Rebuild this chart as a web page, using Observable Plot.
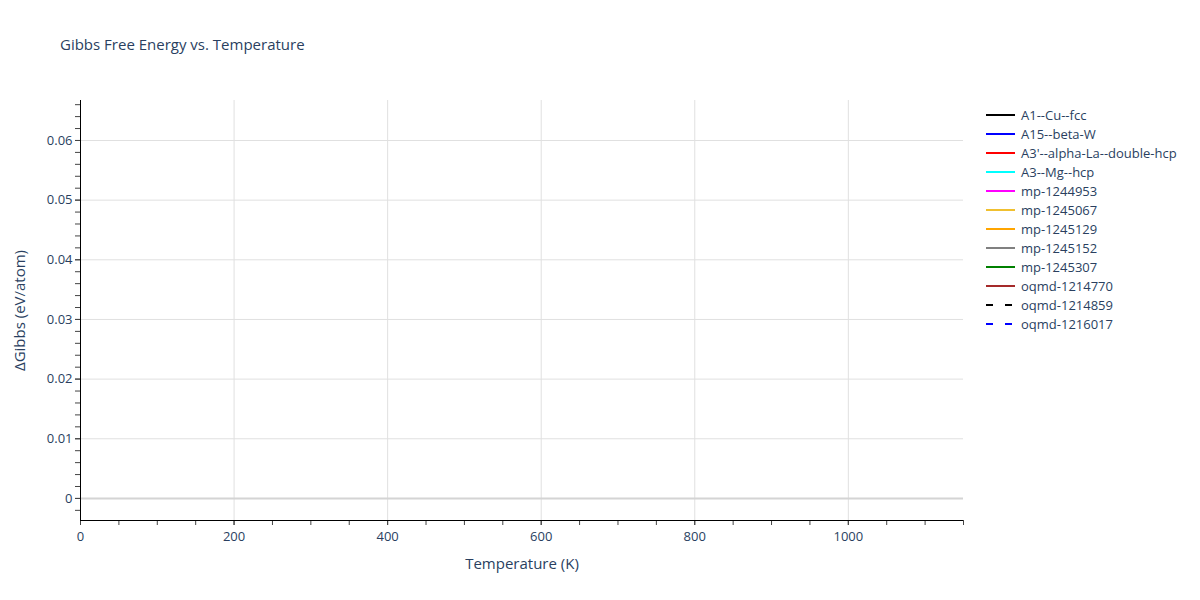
<!DOCTYPE html>
<html>
<head>
<meta charset="utf-8">
<script src="https://cdn.jsdelivr.net/npm/d3@7"></script>
<script src="https://cdn.jsdelivr.net/npm/@observablehq/plot@0.6"></script>
<style>
  body { margin: 0; background: #fff; font-family: "Open Sans", Verdana, Arial, sans-serif; }
  #wrap { position: relative; width: 1200px; height: 600px; }
  #title { position: absolute; left: 60px; top: 34px; font-size: 15px; color: #2a3f5f; }
  #legend { position: absolute; left: 985px; top: 105px; font-size: 13px; color: #2a3f5f; }
  .row { height: 19px; display: flex; align-items: center; }
  .row svg { margin-right: 6px; }
  svg text { font-family: "Open Sans", Verdana, Arial, sans-serif; }
</style>
</head>
<body>
<div id="wrap">
  <div id="chart"></div>
  <div id="title">Gibbs Free Energy vs. Temperature</div>
  <div id="legend"></div>
</div>
<script>
const seriesNames = ["A1--Cu--fcc","A15--beta-W","A3'--alpha-La--double-hcp","A3--Mg--hcp","mp-1244953","mp-1245067","mp-1245129","mp-1245152","mp-1245307","oqmd-1214770","oqmd-1214859","oqmd-1216017"];
const seriesColors = ["black","blue","red","cyan","magenta","#f0c030","orange","gray","green","brown","black","blue"];
const seriesDash = [false,false,false,false,false,false,false,false,false,false,true,true];
// No visible data in the reference: every series is empty.
const seriesValues = seriesNames.map(() => []);
const xDomain = [0, 1150];
const yDomain = [-0.0037, 0.0667];
const xMajorTicks = [0, 200, 400, 600, 800, 1000];
const xMinorTicks = d3.range(0, 1151, 50);
const yMajorTicks = [0, 0.01, 0.02, 0.03, 0.04, 0.05, 0.06];
const yMinorTicks = d3.range(-0.002, 0.0667, 0.002);

const lineData = seriesNames.flatMap((name, i) => seriesValues[i].map(([t, g]) => ({name, t, g})));

const textColor = "#2a3f5f";
const chart = Plot.plot({
  width: 1200, height: 600,
  marginLeft: 80, marginRight: 237, marginTop: 100, marginBottom: 80,
  style: {fontSize: "13px", color: textColor, fontFamily: "Open Sans, Verdana, Arial, sans-serif"},
  x: {domain: xDomain, label: null},
  y: {domain: yDomain, label: null},
  marks: [
    Plot.gridX(xMajorTicks.filter(d => d > 0), {stroke: "#e0e0e0", strokeOpacity: 1, strokeWidth: 1}),
    Plot.gridY(yMajorTicks.filter(d => d !== 0), {stroke: "#e0e0e0", strokeOpacity: 1, strokeWidth: 1}),
    Plot.ruleY([0], {stroke: "#d4d4d4", strokeWidth: 2}),
    ...seriesNames.map((name, i) => Plot.line(lineData.filter(d => d.name === name), {
      x: "t", y: "g", stroke: seriesColors[i], strokeWidth: 2, strokeDasharray: seriesDash[i] ? "7,12" : null
    })),
    Plot.axisX(xMinorTicks, {tickSize: 5, text: null, stroke: "#444"}),
    Plot.axisX(xMajorTicks, {tickSize: 5, tickPadding: 6, stroke: "#444", fill: textColor, label: null, tickFormat: d => String(d)}),
    Plot.axisY(yMinorTicks, {tickSize: 5, text: null, stroke: "#444"}),
    Plot.axisY(yMajorTicks, {tickSize: 5, tickPadding: 3, stroke: "#444", fill: textColor, label: null, tickFormat: d => d === 0 ? "0" : d3.format(".2f")(d)}),
    Plot.ruleX([xDomain[0]], {stroke: "black", strokeWidth: 1}),
    Plot.ruleY([yDomain[0]], {stroke: "black", strokeWidth: 1}),
    Plot.text(["Temperature (K)"], {frameAnchor: "bottom", dy: 48, fill: textColor, fontSize: 15}),
    Plot.text(["ΔGibbs (eV/atom)"], {frameAnchor: "left", dx: -60, rotate: -90, textAnchor: "middle", fill: textColor, fontSize: 15})
  ]
});
document.getElementById("chart").append(chart);

const legend = document.getElementById("legend");
seriesNames.forEach((name, i) => {
  const row = document.createElement("div");
  row.className = "row";
  row.innerHTML = `<svg width="30" height="6"><line x1="1" x2="${seriesDash[i] ? 27 : 30}" y1="3" y2="3" stroke="${seriesColors[i]}" stroke-width="2" ${seriesDash[i] ? 'stroke-dasharray="7,12"' : ''}/></svg><span>${name}</span>`;
  legend.append(row);
});
</script>
</body>
</html>
